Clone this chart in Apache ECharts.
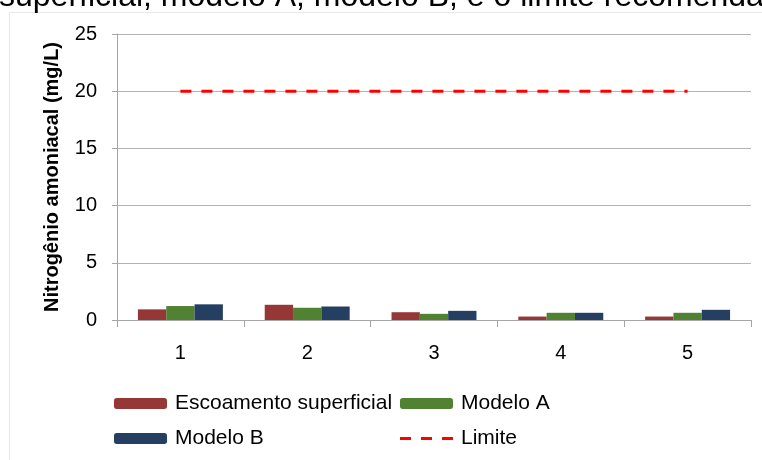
<!DOCTYPE html>
<html>
<head>
<meta charset="utf-8">
<script src="https://cdn.jsdelivr.net/npm/echarts@6/dist/echarts.min.js"></script>
<style>
  html, body { margin: 0; padding: 0; background: #fff; }
  #chart { width: 762px; height: 460px; }
</style>
</head>
<body>
<div id="chart"></div>
<script>
// Sample points along the x axis
var categories = ['1', '2', '3', '4', '5'];

// Ammoniacal nitrogen (mg/L) per source
var escoamento = [0.93, 1.33, 0.68, 0.30, 0.30];
var modeloA = [1.22, 1.07, 0.54, 0.63, 0.63];
var modeloB = [1.37, 1.18, 0.80, 0.63, 0.89];

// Recommended limit (mg/L)
var limite = [20, 20, 20, 20, 20];

// Y axis scale
var yMin = 0, yMax = 25, yStep = 5;

var titleText = 'superficial, modelo A, modelo B, e o limite recomendado';
var yAxisTitle = 'Nitrogênio amoniacal (mg/L)';

var FONT = 'Liberation Sans, Arial, sans-serif';
var GRAY = '#a6a6a6';

// Three short dashes, used as the legend key of the limit line
var DASH_ICON = 'path://M0,0h11v3h-11z M21,0h11v3h-11z M42,0h11v3h-11z';

var chart = echarts.init(document.getElementById('chart'), null, { renderer: 'canvas' });

function legendFor(name, left, top, extra) {
  var l = {
    data: [name],
    left: left,
    top: top,
    padding: 0,
    itemWidth: 53,
    itemHeight: 11,
    itemGap: 0,
    selectedMode: false,
    textStyle: { fontFamily: FONT, fontSize: 21, color: '#000', padding: [0, 0, 0, 3] }
  };
  if (extra) { for (var k in extra) { l[k] = extra[k]; } }
  return l;
}

chart.setOption({
  animation: false,
  backgroundColor: '#fff',
  graphic: [
    {
      type: 'rect',
      shape: { x: 9.5, y: 12.5, width: 800, height: 500 },
      style: { fill: 'none', stroke: '#e8e8e8', lineWidth: 1 },
      silent: true, z: -10
    },
    {
      type: 'text',
      left: -1,
      top: -19,
      style: { text: titleText, font: '32px ' + FONT, fill: '#000' },
      silent: true
    }
  ],
  grid: { left: 117, right: 11, top: 34, bottom: 140, containLabel: false },
  legend: [
    legendFor('Escoamento superficial', 114, 393),
    legendFor('Modelo A', 400, 393),
    legendFor('Modelo B', 114, 428),
    legendFor('Limite', 400, 428, { itemHeight: 3, icon: DASH_ICON })
  ],
  xAxis: {
    type: 'category',
    data: categories,
    boundaryGap: true,
    axisLine: { lineStyle: { color: GRAY, width: 1 } },
    axisTick: { show: true, length: 7, lineStyle: { color: GRAY } },
    axisLabel: { fontFamily: FONT, fontSize: 20, color: '#000', margin: 23 },
    splitLine: { show: false }
  },
  yAxis: {
    type: 'value',
    min: yMin,
    max: yMax,
    interval: yStep,
    name: yAxisTitle,
    nameLocation: 'middle',
    nameRotate: 90,
    nameGap: 55,
    nameTextStyle: { fontFamily: FONT, fontSize: 20, fontWeight: 'bold', color: '#000' },
    axisLine: { show: true, lineStyle: { color: GRAY, width: 1 } },
    axisTick: { show: true, length: 5, inside: false, lineStyle: { color: GRAY } },
    axisLabel: { fontFamily: FONT, fontSize: 20, color: '#000', margin: 20 },
    splitLine: { show: true, lineStyle: { color: '#b3b3b3', width: 1 } }
  },
  series: [
    {
      name: 'Escoamento superficial',
      type: 'bar',
      data: escoamento,
      barGap: '0%',
      barCategoryGap: '33%',
      itemStyle: { color: '#953735' }
    },
    {
      name: 'Modelo A',
      type: 'bar',
      data: modeloA,
      barGap: '0%',
      barCategoryGap: '33%',
      itemStyle: { color: '#508232' }
    },
    {
      name: 'Modelo B',
      type: 'bar',
      data: modeloB,
      barGap: '0%',
      barCategoryGap: '33%',
      itemStyle: { color: '#243f62' }
    },
    {
      name: 'Limite',
      type: 'line',
      data: limite,
      symbol: 'none',
      z: 5,
      itemStyle: { color: '#ff0000' },
      lineStyle: { color: '#ff0000', width: 3, type: [11, 10] }
    }
  ]
});
</script>
</body>
</html>
